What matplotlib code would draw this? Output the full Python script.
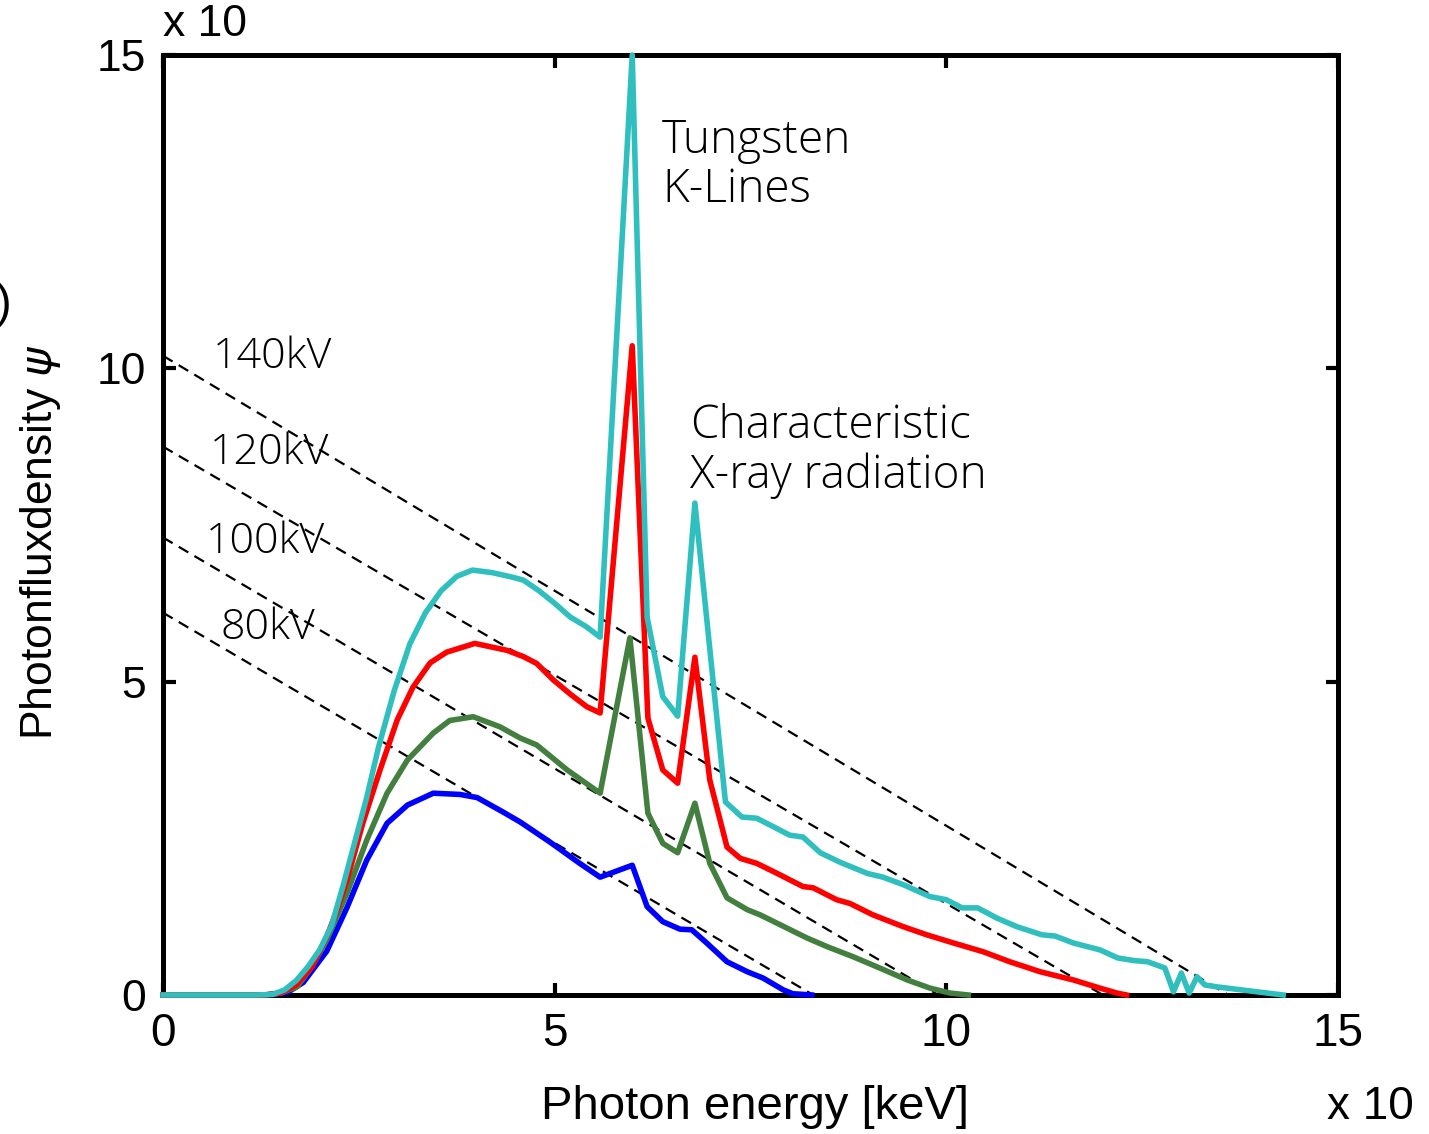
import matplotlib
matplotlib.use('Agg')
import matplotlib.pyplot as plt

# --- data (x in units of 10 keV, y in units of 10) ---
x_140 = [0, 1.2, 1.4, 1.55, 1.7, 1.85, 2.0, 2.15, 2.3, 2.45, 2.6, 2.75, 2.95, 3.15, 3.35, 3.55,
         3.75, 3.95, 4.2, 4.45, 4.6, 4.8, 5.0, 5.2, 5.4, 5.58, 5.99, 6.18, 6.38, 6.57, 6.79,
         7.18, 7.39, 7.58, 7.8, 8.0, 8.17, 8.39, 8.64, 8.99, 9.19, 9.45, 9.79, 10.0, 10.2,
         10.4, 10.64, 10.9, 11.22, 11.39, 11.62, 11.96, 12.19, 12.39, 12.57, 12.79, 12.9,
         13.0, 13.1, 13.2, 13.3, 13.45, 14.1, 14.3]
y_140 = [0, 0, 0.01, 0.08, 0.23, 0.45, 0.72, 1.1, 1.75, 2.45, 3.15, 3.95, 4.85, 5.6, 6.1, 6.45,
         6.68, 6.78, 6.74, 6.67, 6.62, 6.45, 6.25, 6.03, 5.88, 5.71, 15.0, 6.03, 4.76, 4.45, 7.85,
         3.08, 2.84, 2.82, 2.68, 2.55, 2.52, 2.27, 2.12, 1.94, 1.88, 1.76, 1.57, 1.52, 1.39,
         1.39, 1.23, 1.09, 0.96, 0.94, 0.83, 0.72, 0.59, 0.55, 0.53, 0.43, 0.05,
         0.35, 0.03, 0.29, 0.16, 0.13, 0.03, 0.0]

x_120 = [0, 1.3, 1.5, 1.7, 1.9, 2.09, 2.22, 2.35, 2.55, 2.77, 2.99, 3.19, 3.41, 3.62, 3.98,
         4.39, 4.6, 4.77, 4.98, 5.2, 5.41, 5.58, 5.99, 6.19, 6.38, 6.57, 6.79, 6.98, 7.2, 7.37,
         7.58, 7.84, 8.17, 8.3, 8.6, 8.77, 9.06, 9.45, 9.75, 10.09, 10.47, 10.81, 11.2, 11.62,
         11.96, 12.18, 12.3]
y_120 = [0, 0, 0.03, 0.16, 0.45, 0.93, 1.35, 1.84, 2.74, 3.59, 4.39, 4.91, 5.3, 5.47, 5.61,
         5.5, 5.4, 5.29, 5.03, 4.8, 4.6, 4.5, 10.36, 4.42, 3.59, 3.38, 5.39, 3.43, 2.36, 2.18,
         2.1, 1.94, 1.73, 1.71, 1.52, 1.46, 1.28, 1.09, 0.96, 0.83, 0.69, 0.53, 0.37, 0.24,
         0.11, 0.03, 0]

x_100 = [0, 1.3, 1.5, 1.71, 1.9, 2.09, 2.35, 2.6, 2.86, 3.12, 3.45, 3.66, 3.96, 4.3, 4.56,
         4.77, 5.16, 5.58, 5.96, 6.19, 6.38, 6.57, 6.79, 6.98, 7.2, 7.46, 7.62, 7.88, 8.22,
         8.48, 8.81, 9.15, 9.5, 9.79, 10.05, 10.28]
y_100 = [0, 0, 0.03, 0.13, 0.45, 0.88, 1.63, 2.47, 3.22, 3.75, 4.18, 4.38, 4.44, 4.28, 4.1,
         3.99, 3.59, 3.22, 5.7, 2.9, 2.42, 2.27, 3.06, 2.1, 1.55, 1.36, 1.28, 1.12, 0.91,
         0.77, 0.61, 0.43, 0.24, 0.11, 0.03, 0]

x_80 = [0, 1.3, 1.5, 1.6, 1.79, 2.09, 2.35, 2.6, 2.86, 3.12, 3.45, 3.79, 4.01, 4.34, 4.56,
        4.94, 5.32, 5.58, 5.99, 6.18, 6.38, 6.6, 6.75, 6.94, 7.2, 7.46, 7.66, 7.92, 8.04, 8.28]
y_80 = [0, 0, 0.02, 0.05, 0.2, 0.7, 1.4, 2.15, 2.74, 3.03, 3.22, 3.2, 3.15, 2.92, 2.76,
        2.44, 2.1, 1.88, 2.07, 1.41, 1.17, 1.05, 1.04, 0.83, 0.53, 0.37, 0.27, 0.08, 0.02, 0]

# dashed guide lines (value at x=0, energy where they reach 0)
tube_kv = ['80kV', '100kV', '120kV', '140kV']
guide_y0 = [6.1, 7.3, 8.75, 10.2]
guide_end = [8.3, 9.9, 12.0, 13.6]
label_x = [0.73, 0.54, 0.6, 0.64]
label_y = [5.86, 7.23, 8.66, 10.18]

ticks = [0, 5, 10, 15]

anno = 'Open Sans'

fig = plt.figure(figsize=(14.29, 11.34), dpi=100)
ax = fig.add_axes([0.1141, 0.1226, 0.8222, 0.8289])

for y0, e in zip(guide_y0, guide_end):
    ax.plot([0, e], [y0, 0], color='black', lw=1.6, ls=(0, (5, 3.2)), zorder=2)

ax.plot(x_140, y_140, color='#30bfbf', lw=4, zorder=6, clip_on=False)
ax.plot(x_120, y_120, color='#ff0000', lw=4, zorder=5, clip_on=False)
ax.plot(x_100, y_100, color='#437f3f', lw=4, zorder=4, clip_on=False)
ax.plot(x_80, y_80, color='#0000ff', lw=4, zorder=3, clip_on=False)

for lab, lx, ly in zip(tube_kv, label_x, label_y):
    ax.text(lx, ly, lab, fontsize=31, family=anno, fontweight='light', va='center', ha='left', zorder=1)

ax.text(6.37, 14.0, 'Tungsten\nK-Lines', fontsize=33, family=anno, fontweight='light',
        va='top', ha='left', linespacing=1.1)
ax.text(6.73, 9.45, 'Characteristic\nX-ray radiation', fontsize=33, family=anno, fontweight='light',
        va='top', ha='left', linespacing=1.1)

ax.set_xlim(0, 15)
ax.set_ylim(0, 15)
ax.set_xticks(ticks)
ax.set_yticks(ticks)
ax.tick_params(direction='in', length=9, width=3, top=True, right=True, pad=12)
for lbl in ax.get_xticklabels():
    lbl.set_family('Liberation Sans')
    lbl.set_fontsize(33)
for lbl in ax.get_yticklabels():
    lbl.set_family('Liberation Sans')
    lbl.set_fontsize(32)
for sp in ax.spines.values():
    sp.set_linewidth(3.6)
    sp.set_zorder(2.5)

fig.text(0.528, 0.024, 'Photon energy [keV]', family='Liberation Sans', fontsize=34, ha='center', va='center')
fig.text(0.959, 0.024, 'x 10', family='Liberation Sans', fontsize=33, ha='center', va='center')
fig.text(0.114, 0.978, 'x 10', family='Liberation Sans', fontsize=32, ha='left', va='center')
fig.text(0.028, 0.522, r'Photonfluxdensity $\psi$', family='Liberation Sans', fontsize=32,
         rotation=90, ha='center', va='center')
fig.text(0.008, 0.731, ')', family='Liberation Sans', fontsize=34, ha='right', va='center')

fig.savefig('out.png', dpi=100)
